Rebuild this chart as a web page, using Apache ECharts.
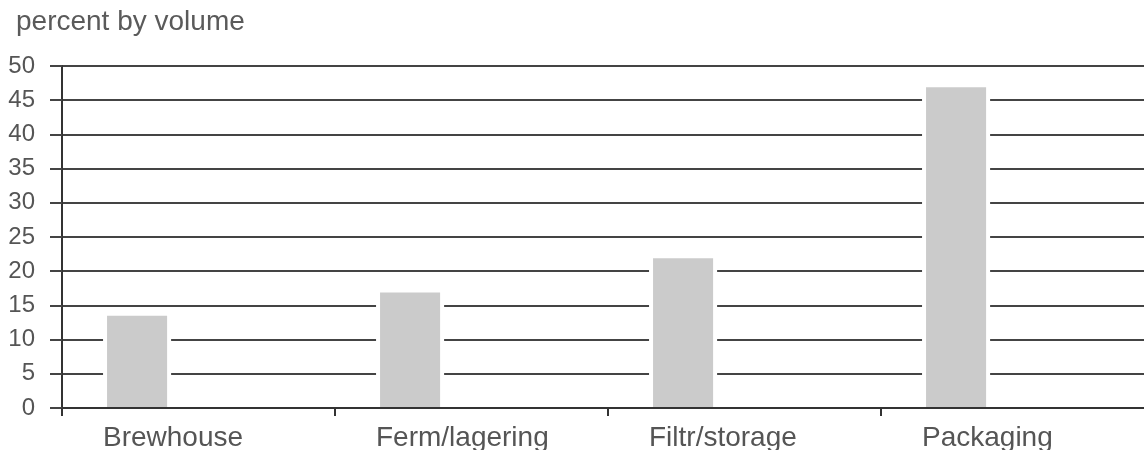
<!DOCTYPE html>
<html><head><meta charset="utf-8">
<script src="https://cdn.jsdelivr.net/npm/echarts@6/dist/echarts.min.js"></script>
<style>html,body{margin:0;padding:0;background:#fff;overflow:hidden}#c{width:1154px;height:450px}</style>
</head><body><div id="c"></div>
<script>
const categories = ["Brewhouse", "Ferm/lagering", "Filtr/storage", "Packaging"];
const percentByVolume = [13.5, 16.9, 21.9, 46.9];
const yTicks = {min: 0, max: 50, interval: 5};

const FONT = 'Liberation Sans, Arial, Helvetica, sans-serif';
const BAR_OFFSET = 0.165;  // bar left edge as fraction of the band
const BAR_WIDTH = 0.22;    // bar width as fraction of the band
const HALO = 4;

const chart = echarts.init(document.getElementById('c'), null, {renderer: 'canvas'});
chart.setOption({
  animation: false,
  backgroundColor: '#fff',
  textStyle: {fontFamily: FONT},
  title: {
    text: 'percent by volume', left: 11, top: 3,
    textStyle: {fontSize: 28, fontWeight: 'normal', color: '#5a5a5a', fontFamily: FONT}
  },
  grid: {left: 62, top: 66, right: 0, bottom: 42, containLabel: false, outerBoundsMode: 'none'},
  xAxis: [{
    type: 'category', data: categories,
    axisLine: {lineStyle: {color: '#333', width: 2}},
    axisTick: {show: true, length: 8, lineStyle: {color: '#333', width: 2}},
    axisLabel: {show: false},
    splitLine: {show: false}
  }, {
    type: 'value', position: 'bottom', offset: 0,
    min: 0, max: categories.length, interval: 1,
    axisLine: {show: false}, axisTick: {show: false}, splitLine: {show: false},
    axisLabel: {
      margin: 16, fontSize: 28, color: '#555', fontFamily: FONT,
      align: 'left', padding: [0, 0, 0, 41],
      formatter: v => categories[v] || ''
    }
  }],
  yAxis: {
    type: 'value', min: yTicks.min, max: yTicks.max, interval: yTicks.interval,
    axisLine: {show: true, lineStyle: {color: '#333', width: 2}},
    axisTick: {show: true, length: 12, lineStyle: {color: '#444', width: 2}},
    axisLabel: {margin: 27, fontSize: 24, color: '#555', fontFamily: FONT},
    splitLine: {show: true, lineStyle: {color: '#444', width: 2}}
  },
  series: [{
    type: 'custom',
    xAxisIndex: 0, yAxisIndex: 0,
    data: percentByVolume.map((v, i) => [i, v]),
    encode: {x: 0, y: 1},
    renderItem: function (params, api) {
      const idx = api.value(0);
      const top = api.coord([idx, api.value(1)]);
      const base = api.coord([idx, 0]);
      const band = api.size([1, 0])[0];
      const x = top[0] - band / 2 + band * BAR_OFFSET;
      const w = band * BAR_WIDTH;
      const yTop = top[1];
      const yBot = base[1] - 1;
      return {
        type: 'group',
        children: [
          {type: 'rect', shape: {x: x - HALO, y: yTop - HALO, width: w + 2 * HALO, height: yBot - yTop + HALO},
           style: {fill: '#fff'}},
          {type: 'rect', shape: {x: x, y: yTop, width: w, height: yBot - yTop},
           style: {fill: '#cbcbcb'}}
        ]
      };
    }
  }]
});
</script></body></html>
